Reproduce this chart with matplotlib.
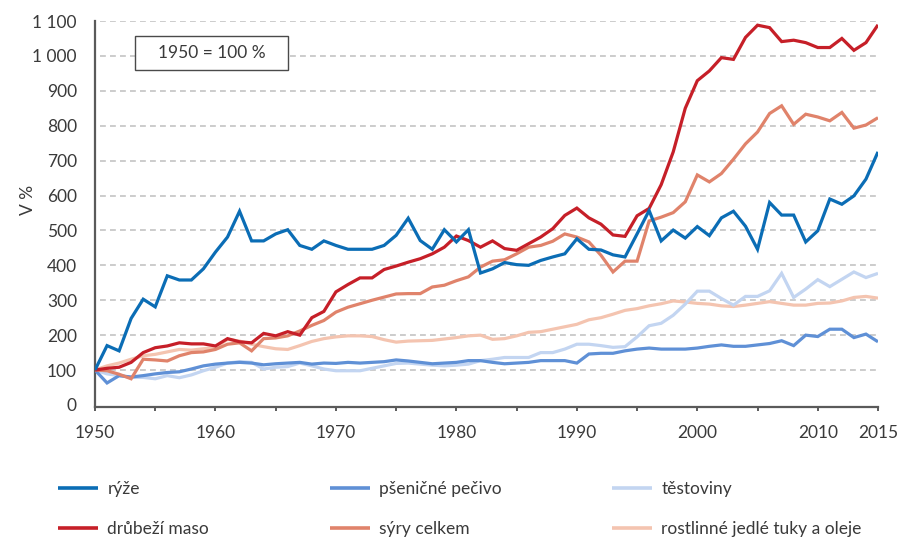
import matplotlib
matplotlib.use("Agg")
import matplotlib.pyplot as plt
from matplotlib import font_manager
from matplotlib.ticker import FixedLocator, FuncFormatter
from matplotlib.patches import Rectangle

years = list(range(1950, 2016))

ryze = [100, 170, 155, 248, 303, 281, 370, 358, 358, 390,
        438, 481, 555, 470, 470, 490, 502, 457, 446, 470,
        457, 446, 446, 446, 457, 486, 535, 471, 446, 502,
        467, 502, 378, 390, 408, 402, 400, 414, 424, 433,
        476, 446, 444, 430, 424, 490, 557, 470, 501, 478,
        511, 485, 536, 555, 512, 446, 580, 544, 544, 467,
        499, 590, 575, 599, 647, 725]

psenicne = [100, 63, 84, 80, 84, 89, 93, 95, 103, 112,
            117, 120, 122, 120, 115, 118, 120, 122, 117, 120,
            119, 122, 120, 122, 124, 129, 126, 122, 118, 120,
            122, 127, 127, 122, 118, 120, 122, 127, 127, 127,
            120, 146, 148, 148, 155, 160, 163, 160, 160, 160,
            163, 168, 172, 168, 168, 172, 176, 184, 170, 200,
            196, 217, 217, 193, 203, 181]

testoviny = [100, 89, 84, 79, 79, 75, 84, 78, 86, 98,
             108, 120, 124, 122, 103, 108, 110, 120, 112, 103,
             98, 98, 98, 105, 112, 119, 120, 117, 114, 112,
             114, 117, 127, 131, 136, 136, 136, 150, 150, 160,
             174, 174, 170, 165, 167, 195, 227, 234, 257, 289,
             326, 326, 305, 286, 311, 311, 327, 377, 308, 332,
             359, 339, 360, 381, 365, 377]

drubezi = [100, 105, 108, 122, 150, 164, 169, 178, 175, 175,
           169, 190, 181, 178, 205, 198, 210, 200, 250, 268,
           324, 345, 364, 364, 388, 398, 409, 419, 433, 452,
           484, 471, 452, 470, 448, 443, 462, 481, 505, 543,
           564, 536, 518, 487, 483, 542, 563, 631, 725, 850,
           929, 957, 995, 990, 1053, 1088, 1081, 1041, 1045, 1038,
           1024, 1024, 1050, 1016, 1038, 1089]

syry = [100, 98, 88, 75, 131, 129, 126, 141, 150, 152,
        159, 174, 178, 155, 190, 192, 198, 212, 228, 242,
        266, 280, 290, 300, 309, 318, 319, 319, 338, 343,
        356, 367, 395, 412, 416, 433, 452, 457, 469, 490,
        481, 467, 429, 381, 412, 412, 527, 538, 551, 582,
        659, 639, 663, 704, 748, 782, 835, 857, 804, 833,
        825, 814, 838, 793, 802, 823]

oleje = [100, 112, 120, 131, 141, 145, 152, 159, 157, 161,
         164, 188, 183, 174, 167, 161, 159, 170, 182, 190,
         195, 198, 198, 196, 187, 180, 183, 184, 185, 189,
         193, 198, 200, 188, 190, 198, 208, 210, 217, 224,
         231, 244, 250, 260, 271, 276, 284, 290, 298, 295,
         291, 289, 284, 282, 286, 291, 296, 291, 286, 286,
         291, 292, 298, 308, 311, 306]

labels = ["rýže", "pšeničné pečivo", "těstoviny",
          "drůbeží maso", "sýry celkem", "rostlinné jedlé tuky a oleje"]
colors = ["#0b6db5", "#5f90d6", "#c3d5f1", "#c61f28", "#e0836b", "#f4c4b0"]
series = [ryze, psenicne, testoviny, drubezi, syry, oleje]

xticks = [1950, 1960, 1970, 1980, 1990, 2000, 2010, 2015]
yticks = list(range(0, 1101, 100))

names = {f.name for f in font_manager.fontManager.ttflist}
if "Liberation Sans Narrow" in names:
    fam = ["Liberation Sans Narrow", "DejaVu Sans"]
    fs = 14
else:
    fam = ["Lato", "DejaVu Sans"]
    fs = 12.5
plt.rcParams["font.family"] = fam

TXT = "#3a3a3a"
AX = "#5a5a5a"

fig = plt.figure(figsize=(9.04, 5.46), dpi=100)
ax = fig.add_axes([95 / 904, 1 - 406.7 / 546, (878 - 95) / 904, (406.7 - 21) / 546])

order = [5, 2, 1, 4, 3, 0]
handles = {}
for k, i in enumerate(order):
    ln, = ax.plot(years, series[i], color=colors[i], lw=2.3, solid_joinstyle="miter",
                  solid_capstyle="butt", zorder=3 + k * 0.1)
    handles[i] = ln

ax.set_xlim(1950, 2015)
ax.set_ylim(-5, 1100)

ax.xaxis.set_major_locator(FixedLocator(xticks))
ax.xaxis.set_minor_locator(FixedLocator(list(range(1950, 2016, 5))))
ax.set_yticks(yticks)
ax.yaxis.set_major_formatter(FuncFormatter(lambda v, p: f"{int(v):,}".replace(",", " ")))

for y in yticks[1:]:
    ax.axhline(y, color="#c4c4c4", lw=1.2, linestyle=(0, (3.5, 2.5)), zorder=1, xmin=0.006)

for s in ["top", "right"]:
    ax.spines[s].set_visible(False)
for s in ["left", "bottom"]:
    ax.spines[s].set_color(AX)
    ax.spines[s].set_linewidth(1.6)

ax.tick_params(axis="y", length=0, pad=13, labelsize=fs, labelcolor=TXT)
ax.tick_params(axis="x", which="both", direction="out", length=3, width=1.4, color=AX,
               pad=10, labelsize=fs, labelcolor=TXT)

fig.text(28 / 904, 1 - 200 / 546, "V %", rotation=90, ha="center", va="center",
         fontsize=fs, color=TXT)

fig.add_artist(Rectangle((135 / 904, 1 - 70 / 546), (288 - 135) / 904, (70 - 36) / 546,
                         transform=fig.transFigure, fc="white", ec="#4a4a4a", lw=1.0, zorder=2))
fig.text(212 / 904, 1 - 53 / 546, "1950 = 100 %", ha="center", va="center",
         fontsize=fs, color=TXT, zorder=5)

col_x = [58, 330, 612]
for c in range(3):
    hs = [handles[c], handles[c + 3]]
    lg = fig.legend(hs, [labels[c], labels[c + 3]], loc="upper left",
                    bbox_to_anchor=(col_x[c] / 904, 1 - 481 / 546),
                    frameon=False, fontsize=fs, handlelength=2.3, handletextpad=0.55,
                    labelspacing=1.4, borderaxespad=0, borderpad=0, labelcolor=TXT)
    for l in lg.get_lines():
        l.set_linewidth(2.6)

fig.savefig("out.png", dpi=100)
